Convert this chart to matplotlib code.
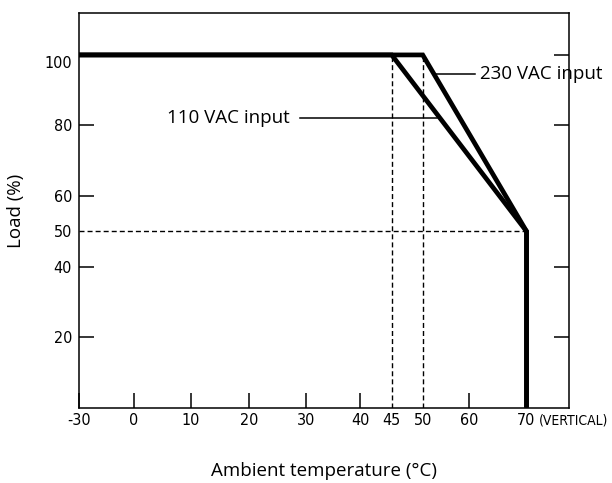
import numpy as np
import matplotlib
matplotlib.use("Agg")
import matplotlib.pyplot as plt
from matplotlib.transforms import ScaledTranslation

# ---- derating curves (ambient temperature in degC, load in %) ----
temp_230 = [-30, 50, 70, 70]
load_230 = [100, 100, 50, 0]
temp_110 = [-30, 45, 70, 70]
load_110 = [100, 100, 50, 0]

# reference guides
guide_temps = [45, 50]
guide_load = 50

x_major = [-30, 0, 10, 20, 30, 40, 60, 70]
x_major_labels = ["-30", "0", "10", "20", "30", "40", "60", "70"]
x_minor = [45, 50]
x_minor_labels = ["45", "50"]
y_major = [20, 40, 60, 80, 100]
y_major_labels = ["20", "40", "60", "80", "100"]
y_minor = [50]
y_minor_labels = ["50"]

label_230 = "230 VAC input"
label_110 = "110 VAC input"
suffix_70 = "(VERTICAL)"

# ---- the temperature axis is drawn with uneven spacing between ticks ----
T_KNOTS = np.array([-30, 0, 10, 20, 30, 40, 45, 50, 60, 70, 80], dtype=float)
P_KNOTS = np.array([79, 134, 191, 249, 305.7, 360, 391.7, 422.7, 468.7, 526.5, 584.3])


def fwd(t):
    return np.interp(t, T_KNOTS, P_KNOTS)


def inv(p):
    return np.interp(p, P_KNOTS, T_KNOTS)


TICK_FAMILY = ["DejaVu Sans"]
TICK_STRETCH = "condensed"
TICK_SIZE = 11.5
TEXT_FONT = ["Open Sans", "DejaVu Sans"]

fig = plt.figure(figsize=(6.12, 4.83), dpi=100)
ax = fig.add_axes([79 / 612, 1 - 407.7 / 483, (569 - 79) / 612, (407.7 - 13.3) / 483])
ax.set_xscale("function", functions=(fwd, inv))
ax.set_xlim(-30, 77.35)
ax.set_ylim(0, 111.8)

dash = dict(color="black", lw=1.0, dashes=(3.6, 2.2))
for t in guide_temps:
    ax.plot([t, t], [0, 100], **dash)
ax.plot([-30, 70], [guide_load, guide_load], **dash)

thick = dict(color="black", lw=3.4, solid_joinstyle="miter", solid_capstyle="butt", clip_on=False)
ax.plot(temp_110, load_110, **thick)
ax.plot(temp_230, load_230, **thick)

# leader lines and curve names
ax.plot([52.7, 61.1], [94.6, 94.6], color="black", lw=1.1)
ax.text(62.0, 94.6, label_230, fontsize=13.5, family=TEXT_FONT, va="center", ha="left")
ax.plot([29.0, 53.0], [82.2, 82.2], color="black", lw=1.1)
ax.text(27.1, 82.2, label_110, fontsize=13.5, family=TEXT_FONT, va="center", ha="right")

# ticks
ax.set_xticks(x_major, x_major_labels)
ax.set_xticks(x_minor, x_minor_labels, minor=True)
ax.set_yticks(y_major, y_major_labels)
ax.set_yticks(y_minor, y_minor_labels, minor=True)
ax.tick_params(which="major", direction="in", length=10.5, width=1.1,
               left=True, right=True, top=False, bottom=True)
ax.tick_params(which="minor", direction="in", length=0, left=True, right=False,
               top=False, bottom=True)
ax.tick_params(axis="x", which="both", pad=4)
ax.tick_params(axis="y", which="both", pad=5)
for lab in ax.get_xticklabels() + ax.get_xticklabels(minor=True) + \
        ax.get_yticklabels() + ax.get_yticklabels(minor=True):
    lab.set_family(TICK_FAMILY)
    lab.set_fontstretch(TICK_STRETCH)
    lab.set_fontsize(TICK_SIZE)

# the "100" label sits a little below its tick
lab100 = ax.get_yticklabels()[-1]
lab100.set_transform(lab100.get_transform() + ScaledTranslation(0, -7 / 100, fig.dpi_scale_trans))

# suffix after the 70 label
lab70 = ax.get_xticklabels()[-1]
ax.annotate(suffix_70, xy=(1, 0.5), xycoords=lab70, xytext=(2.5, 0),
            textcoords="offset points", va="center", ha="left",
            annotation_clip=False, family=TICK_FAMILY, fontstretch=TICK_STRETCH,
            fontsize=10)

for s in ax.spines.values():
    s.set_linewidth(1.1)

ax.set_xlabel("Ambient temperature (\u00b0C)", fontsize=13.5, family=TEXT_FONT, labelpad=24)
ax.set_ylabel("Load (%)", fontsize=13.5, family=TEXT_FONT, labelpad=14)

fig.savefig("out.png", dpi=100)
